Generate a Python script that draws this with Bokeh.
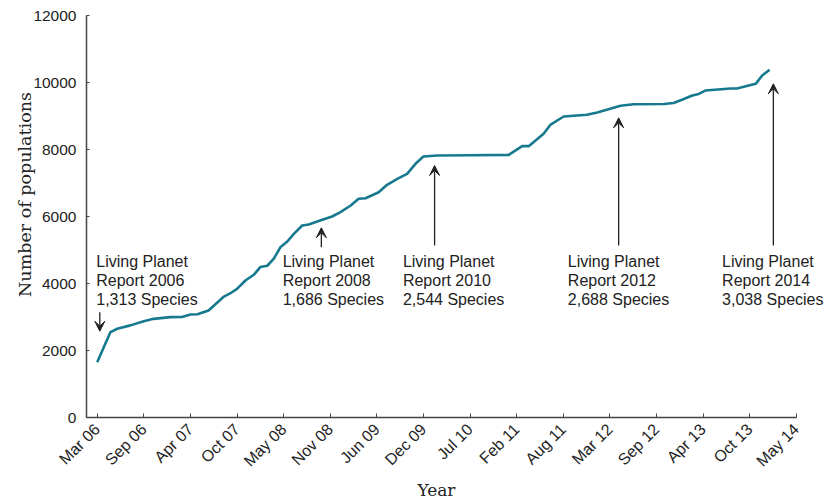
import math
from bokeh.plotting import figure
from bokeh.models import Range1d, FixedTicker, Arrow, VeeHead
from bokeh.core.properties import value
from bokeh.embed import file_html
from bokeh.resources import INLINE

# Tick labels (evenly spaced on the axis)
tick_labels = ["Mar 06", "Sep 06", "Apr 07", "Oct 07", "May 08", "Nov 08", "Jun 09",
               "Dec 09", "Jul 10", "Feb 11", "Aug 11", "Mar 12", "Sep 12", "Apr 13",
               "Oct 13", "May 14"]
y_ticks = [0, 2000, 4000, 6000, 8000, 10000, 12000]

# Series: position along the axis (in tick steps) and number of populations
position = [0.00, 0.285, 0.43, 0.71, 1.00, 1.21, 1.57, 1.82, 2.00, 2.15, 2.39, 2.72,
            2.86, 3.00, 3.18, 3.36, 3.50, 3.65, 3.79, 3.93, 4.08, 4.22, 4.40, 4.54,
            4.83, 5.04, 5.22, 5.44, 5.61, 5.76, 6.04, 6.22, 6.44, 6.65, 6.83, 7.00,
            7.30, 8.00, 8.83, 9.12, 9.26, 9.58, 9.73, 10.01, 10.51, 10.73, 11.23,
            11.51, 12.16, 12.37, 12.55, 12.77, 12.91, 13.05, 13.59, 13.73, 14.13,
            14.27, 14.43]
populations = [1650, 2550, 2650, 2750, 2875, 2945, 2995, 3000, 3075, 3080, 3195, 3610,
               3710, 3840, 4090, 4260, 4490, 4530, 4740, 5080, 5254, 5483, 5731, 5761,
               5900, 6000, 6129, 6328, 6528, 6546, 6725, 6946, 7125, 7274, 7573, 7791,
               7821, 7830, 7840, 8100, 8100, 8470, 8745, 8985, 9035, 9105, 9305,
               9350, 9360, 9390, 9485, 9610, 9660, 9760, 9820, 9820, 9960,
               10210, 10380]

# Report annotations
report_years = ["2006", "2008", "2010", "2012", "2014"]
report_species = ["1,313", "1,686", "2,544", "2,688", "3,038"]

# layout of annotations (positions)
text_x = [-0.02, 3.98, 6.56, 10.10, 13.41]
line_y = [4666, 4090, 3522]
arrow_x = [0.056, 4.81, 7.24, 11.19, 14.51]
arrow_from = [3143, 5083, 5134, 5134, 5134]
arrow_to = [2576, 5663, 7522, 8946, 9961]

SANS = "Liberation Sans"
SERIF = "DejaVu Serif"
LINE_COLOR = "#17798e"
AX_COLOR = "#444444"
TXT = "#222222"

# full-canvas frame; axes drawn at fixed locations
PX_X = 46.6          # pixels per tick step
PX_Y = 402 / 12000   # pixels per population unit
X0 = -96.7 / PX_X
X1 = X0 + 826 / PX_X
Y1 = 417 / PX_Y
Y0 = Y1 - 500 / PX_Y

p = figure(width=826, height=500, output_backend="svg", toolbar_location=None,
           x_range=Range1d(X0, X1), y_range=Range1d(Y0, Y1),
           min_border=0)
p.outline_line_color = None
p.xgrid.visible = False
p.ygrid.visible = False
p.background_fill_color = "white"
p.border_fill_color = "white"

p.line(position, populations, line_color=LINE_COLOR, line_width=2.6, line_join="round")

# x axis
xa = p.xaxis[0]
xa.fixed_location = 0
xa.bounds = (-0.23, 15)
xa.ticker = FixedTicker(ticks=list(range(len(tick_labels))))
xa.major_label_overrides = {i: t for i, t in enumerate(tick_labels)}
xa.major_label_orientation = math.pi / 4
xa.major_tick_in = 4
xa.major_tick_out = 0
xa.minor_tick_line_color = None
xa.axis_line_color = AX_COLOR
xa.axis_line_width = 1.5
xa.major_tick_line_color = AX_COLOR
xa.major_label_text_font = SANS
xa.major_label_text_font_size = "16px"
xa.major_label_text_color = TXT
xa.major_label_standoff = 9

# y axis
ya = p.yaxis[0]
ya.fixed_location = -0.23
ya.bounds = (0, 12000)
ya.ticker = FixedTicker(ticks=y_ticks)
ya.major_tick_in = 3
ya.major_tick_out = 0
ya.minor_tick_line_color = None
ya.axis_line_color = AX_COLOR
ya.axis_line_width = 1.5
ya.major_tick_line_color = AX_COLOR
ya.major_label_text_font = SANS
ya.major_label_text_font_size = "15.5px"
ya.major_label_text_color = TXT
ya.major_label_standoff = 10

# axis titles
p.text(x=[-1.56], y=[6657], text=["Number of populations"], angle=math.pi / 2,
       text_font=value(SERIF), text_font_size="17.5px", text_color=TXT,
       text_align="center", text_baseline="middle")
p.text(x=[7.28], y=[-2150], text=["Year"],
       text_font=value(SERIF), text_font_size="17px", text_color=TXT,
       text_align="center", text_baseline="alphabetic")

# report annotations
rows = [["Living Planet"] * len(report_years),
        [f"Report {y}" for y in report_years],
        [f"{s} Species" for s in report_species]]
for row, yy in zip(rows, line_y):
    p.text(x=text_x, y=[yy] * len(row), text=row, text_font=value(SANS),
           text_font_size="16px", text_color=TXT, text_align="left",
           text_baseline="middle")

for ax, y0, y1 in zip(arrow_x, arrow_from, arrow_to):
    p.add_layout(Arrow(x_start=ax, y_start=y0, x_end=ax, y_end=y1,
                       line_color=TXT, line_width=1.3,
                       end=VeeHead(size=10, fill_color=TXT, line_color=TXT,
                                   line_width=1)))

open("out.html", "w").write(file_html(p, INLINE))
